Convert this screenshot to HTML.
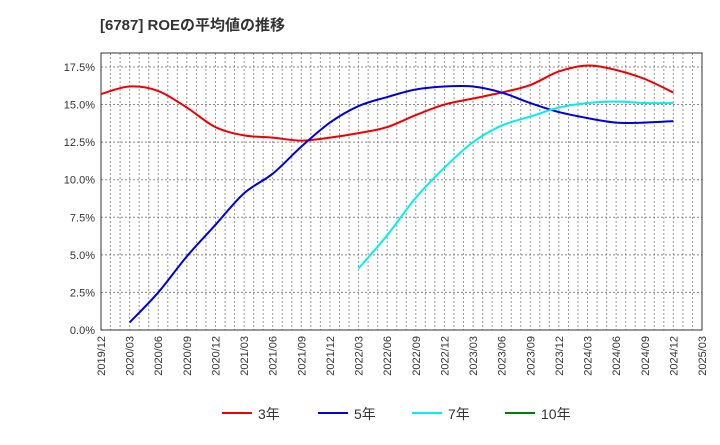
<!DOCTYPE html>
<html><head><meta charset="utf-8"><style>
body{margin:0;background:#fff;font-family:"Liberation Sans","Noto Sans CJK JP",sans-serif}
</style></head><body>
<svg id="c" width="720" height="440" xmlns="http://www.w3.org/2000/svg" font-family="Liberation Sans, Noto Sans CJK JP, sans-serif">
<text x="100" y="30" font-size="15" font-weight="bold" fill="#333">[6787]  ROEの平均値の推移</text>
<g id="grid"></g><g id="axes"></g><g id="series"></g><g id="legend"></g>
</svg>
<script>
const xLabels=["2019/12","2020/03","2020/06","2020/09","2020/12","2021/03","2021/06","2021/09","2021/12","2022/03","2022/06","2022/09","2022/12","2023/03","2023/06","2023/09","2023/12","2024/03","2024/06","2024/09","2024/12","2025/03"];
const yTicks=[0,2.5,5,7.5,10,12.5,15,17.5];
const s3=[15.7,16.2,15.9,14.8,13.5,12.95,12.8,12.6,12.8,13.1,13.5,14.3,15.0,15.4,15.8,16.3,17.2,17.6,17.3,16.7,15.8];
const s5=[null,0.5,2.5,4.9,7.0,9.1,10.4,12.2,13.8,14.9,15.5,16.0,16.2,16.2,15.8,15.1,14.5,14.1,13.8,13.8,13.9];
const s7=[null,null,null,null,null,null,null,null,null,4.1,6.3,8.8,10.8,12.5,13.6,14.2,14.8,15.1,15.2,15.1,15.1];
const s10=[];
const names=["3年","5年","7年","10年"];
const colors=["#f00000","#0000e0","#00f0f0","#008000"];
const L=101,R=702,T=53,B=330,yMax=18.43;
const X=q=>L+q*(R-L)/21;
const Y=v=>B-v*(B-T)/yMax;
const NS="http://www.w3.org/2000/svg";
function mk(p,t,a){const e=document.createElementNS(NS,t);for(const k in a)e.setAttribute(k,a[k]);p.appendChild(e);return e;}
const g=document.getElementById('grid'),ax=document.getElementById('axes'),se=document.getElementById('series'),lg=document.getElementById('legend');
for(let m=1;m<63;m++){const x=L+m*(R-L)/63;
const l=mk(g,'line',{x1:x,x2:x,y1:T,y2:B,stroke:'#999','stroke-dasharray':'2,2','stroke-width':1});

}
yTicks.forEach(v=>{if(v>0){const l=mk(g,'line',{x1:L,x2:R,y1:Y(v),y2:Y(v),stroke:'#888','stroke-dasharray':'2,2'});

}
const t=mk(ax,'text',{x:L-6,y:Y(v)+4,'text-anchor':'end','font-size':11,fill:'#333'});t.textContent=v.toFixed(1)+'%';

});
const fr=mk(ax,'rect',{x:L,y:T,width:R-L,height:B-T,fill:'none',stroke:'#333'});


xLabels.forEach((lab,i)=>{const x=X(i)+4;const t=mk(ax,'text',{x:0,y:0,transform:`translate(${x},${B+6}) rotate(-90)`,'text-anchor':'end','font-size':11,fill:'#333'});t.textContent=lab;

});
function path(arr){const p=[];arr.forEach((v,i)=>{if(v!=null)p.push([X(i),Y(v)]);});if(p.length<2)return'';
let d=`M${p[0][0]},${p[0][1]}`;for(let i=0;i<p.length-1;i++){const p0=p[i-1]||p[i],p1=p[i],p2=p[i+1],p3=p[i+2]||p2;
d+=` C${p1[0]+(p2[0]-p0[0])/6},${p1[1]+(p2[1]-p0[1])/6} ${p2[0]-(p3[0]-p1[0])/6},${p2[1]-(p3[1]-p1[1])/6} ${p2[0]},${p2[1]}`;}return d;}
[s3,s5,s7,s10].forEach((s,k)=>{const d=path(s);if(!d)return;const e=mk(se,'path',{d:d,fill:'none',stroke:colors[k],'stroke-width':2});

});
const lx=[222,318,412,505];
names.forEach((n,k)=>{const gg=mk(lg,'g',{});


mk(gg,'line',{x1:lx[k],x2:lx[k]+30,y1:413,y2:413,stroke:colors[k],'stroke-width':2});
const t=mk(gg,'text',{x:lx[k]+36,y:419,'font-size':14,fill:'#333'});t.textContent=n;});
</script>
</body></html>
